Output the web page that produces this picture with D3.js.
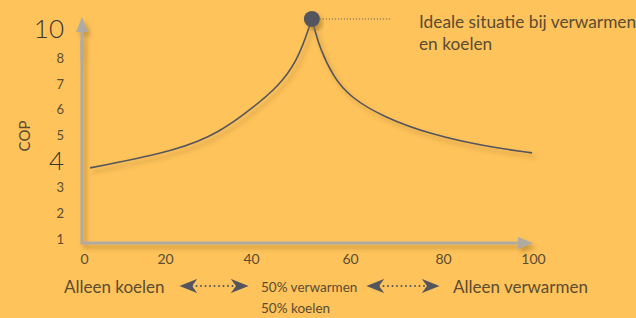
<!DOCTYPE html>
<html>
<head>
<meta charset="utf-8">
<script src="https://cdn.jsdelivr.net/npm/d3@7"></script>
<style>
  body { margin: 0; background: #fec35b; }
  svg { display: block; font-family: Lato, "Open Sans", sans-serif; }
</style>
</head>
<body>
<div id="chart"></div>
<script>
"use strict";

// data
var xTicks = [0, 20, 40, 60, 80, 100];
var yTicks = [1, 2, 3, 4, 5, 6, 7, 8, 10];
var bigYTicks = [4, 10];
var yLabel = "COP";

// COP curve, left branch (koelen) and right branch (verwarmen), meeting at the peak
var leftBranch = [[1.5, 3.75], [23.5, 4.44], [32.8, 5.14], [39.8, 5.99], [45.9, 6.96],
                  [49.3, 7.92], [51.1, 9.45], [52.3, 10.69]];
var rightBranch = [[52.3, 10.69], [52.9, 9.93], [53.9, 8.69], [56.6, 7.27], [60, 6.49],
                   [67.1, 5.72], [77.8, 5.02], [88.9, 4.60], [99.8, 4.33]];
var peak = [52.3, 10.69];

var peakNote = ["Ideale situatie bij verwarmen", "en koelen"];
var leftEnd = "Alleen koelen";
var rightEnd = "Alleen verwarmen";
var middle = ["50% verwarmen", "50% koelen"];

var width = 636, height = 318;
var axisCol = "#afaba2", curveCol = "#54555d", textCol = "#5b4c32";

// the picture's axis is drawn freehand, so the scales are piecewise
var x = d3.scaleLinear().domain(xTicks).range([84, 165, 251, 350, 443, 533]);
var y = d3.scaleLinear().domain([1, 8, 10]).range([239, 58, 29]);

var svg = d3.select("#chart").append("svg")
    .attr("width", width)
    .attr("height", height);

var defs = svg.append("defs");
var shadow = defs.append("filter").attr("id", "shadow")
    .attr("x", "-20%").attr("y", "-20%").attr("width", "140%").attr("height", "140%");
shadow.append("feDropShadow")
    .attr("dx", 3).attr("dy", 4).attr("stdDeviation", 2)
    .attr("flood-color", "#a0742a").attr("flood-opacity", 0.55);

defs.append("marker")
    .attr("id", "axisHead")
    .attr("viewBox", "0 0 10 10")
    .attr("refX", 2).attr("refY", 5)
    .attr("markerWidth", 6).attr("markerHeight", 5)
    .attr("markerUnits", "strokeWidth")
    .attr("orient", "auto")
  .append("path")
    .attr("d", "M0,1 L10,5 L0,9 Z")
    .attr("fill", axisCol);

defs.append("marker")
    .attr("id", "dark")
    .attr("viewBox", "0 0 10 10")
    .attr("refX", 3).attr("refY", 5)
    .attr("markerWidth", 18).attr("markerHeight", 18)
    .attr("markerUnits", "userSpaceOnUse")
    .attr("orient", "auto-start-reverse")
  .append("path")
    .attr("d", "M0,1 L10,5 L0,9 L3,5 Z")
    .attr("fill", curveCol);

// axes with arrows
var axes = svg.append("g").attr("filter", "url(#shadow)");
axes.append("path")
    .attr("d", "M82,40 L82,243 L521,243")
    .attr("fill", "none")
    .attr("stroke", axisCol)
    .attr("stroke-width", 3)
    .attr("marker-end", "url(#axisHead)");
axes.append("line")
    .attr("x1", 82).attr("y1", 60).attr("x2", 82).attr("y2", 29)
    .attr("stroke", axisCol).attr("stroke-width", 3)
    .attr("marker-end", "url(#axisHead)");

// tick labels
var yAxis = svg.append("g")
    .attr("transform", "translate(64,0)")
    .call(d3.axisLeft(y).tickValues(yTicks).tickSize(0).tickPadding(0));
yAxis.select(".domain").remove();
yAxis.selectAll("text")
    .attr("fill", textCol)
    .style("font-family", "Lato, sans-serif")
    .style("font-size", "13px");
yAxis.selectAll(".tick")
  .filter(function(d) { return bigYTicks.indexOf(d) >= 0; })
  .select("text")
    .attr("fill", "#3b3530")
    .style("font-weight", 300)
    .style("font-size", "26px");

var xAxis = svg.append("g")
    .attr("transform", "translate(0,254)")
    .call(d3.axisBottom(x).tickValues(xTicks).tickSize(0).tickPadding(0));
xAxis.select(".domain").remove();
xAxis.selectAll("text")
    .attr("fill", textCol)
    .style("font-family", "Lato, sans-serif")
    .style("font-size", "14px");

svg.append("text")
    .attr("transform", "translate(30,136) rotate(-90)")
    .attr("text-anchor", "middle")
    .attr("fill", textCol)
    .style("font-size", "15px")
    .text(yLabel);

// curve
var line = d3.line()
    .x(function(d) { return x(d[0]); })
    .y(function(d) { return y(d[1]); })
    .curve(d3.curveBasis);

var curve = svg.append("g").attr("filter", "url(#shadow)");
[leftBranch, rightBranch].forEach(function(b) {
  curve.append("path")
      .attr("d", line(b))
      .attr("fill", "none")
      .attr("stroke", curveCol)
      .attr("stroke-width", 1.6);
});

svg.append("line")
    .attr("x1", x(peak[0]) + 8).attr("y1", y(peak[1]))
    .attr("x2", 392).attr("y2", y(peak[1]))
    .attr("stroke", curveCol)
    .attr("stroke-width", 1)
    .attr("stroke-dasharray", "1,2");

svg.append("circle")
    .attr("cx", x(peak[0]))
    .attr("cy", y(peak[1]))
    .attr("r", 8)
    .attr("fill", curveCol)
    .attr("filter", "url(#shadow)");

svg.append("g").selectAll("text")
    .data(peakNote)
    .enter().append("text")
    .attr("x", 419)
    .attr("y", function(d, i) { return 28 + i * 22; })
    .attr("fill", textCol)
    .style("font-size", "17.3px")
    .text(function(d) { return d; });

// bottom labels
svg.append("text")
    .attr("x", 64).attr("y", 293)
    .attr("fill", textCol)
    .style("font-size", "17px")
    .text(leftEnd);
svg.append("text")
    .attr("x", 453).attr("y", 293)
    .attr("fill", textCol)
    .style("font-size", "17px")
    .text(rightEnd);
svg.append("g").selectAll("text")
    .data(middle)
    .enter().append("text")
    .attr("x", 261)
    .attr("y", function(d, i) { return 292 + i * 21; })
    .attr("fill", textCol)
    .style("font-size", "13.5px")
    .text(function(d) { return d; });

// dotted double arrows
[[192, 236], [379, 427]].forEach(function(a) {
  svg.append("line")
      .attr("x1", a[0]).attr("y1", 286)
      .attr("x2", a[1]).attr("y2", 286)
      .attr("stroke", curveCol)
      .attr("stroke-width", 2)
      .attr("stroke-linecap", "round")
      .attr("stroke-dasharray", "0,4.5")
      .attr("marker-start", "url(#dark)")
      .attr("marker-end", "url(#dark)");
});
</script>
</body>
</html>
